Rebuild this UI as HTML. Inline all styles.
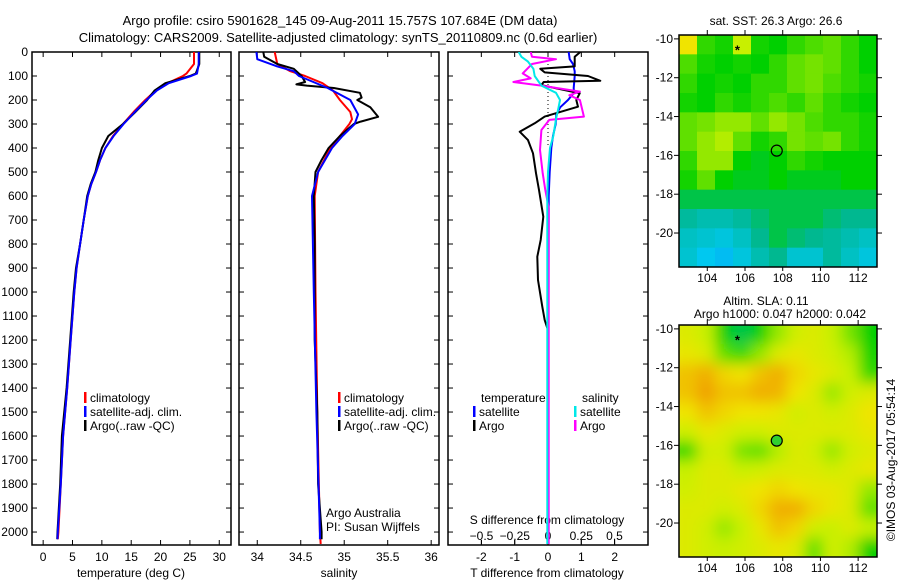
<!DOCTYPE html>
<html><head><meta charset="utf-8"><style>
html,body{margin:0;padding:0;background:#fff;}
svg{display:block;font-family:"Liberation Sans",sans-serif;font-size:12px;}
</style></head><body>
<svg id="fig" width="900" height="580" viewBox="0 0 900 580">
<defs>
<clipPath id="c1"><rect x="32" y="52" width="199" height="493"/></clipPath>
<clipPath id="c2"><rect x="239" y="52" width="200" height="493"/></clipPath>
<clipPath id="c3"><rect x="448" y="52" width="200" height="493"/></clipPath>
<clipPath id="cm1"><rect x="679" y="35" width="198" height="232"/></clipPath>
<clipPath id="cm2"><rect x="679" y="325" width="198" height="232"/></clipPath>
<filter id="blur" x="-5%" y="-5%" width="110%" height="110%"><feGaussianBlur stdDeviation="7"/></filter>
</defs>
<text x="340" y="25" text-anchor="middle" font-size="13">Argo profile: csiro 5901628_145 09-Aug-2011 15.757S 107.684E (DM data)</text>
<text x="338" y="42" text-anchor="middle" font-size="13">Climatology: CARS2009. Satellite-adjusted climatology: synTS_20110809.nc (0.6d earlier)</text>
<g id="g"></g>
</svg>
<script>
// ---- profile data ----
const tempDepth=[0,50,90,100,130,160,200,250,300,350,400,450,500,550,600,700,800,900,1000,1200,1400,1600,1800,2000,2030];
const argoT=[26.6,26.6,26.0,25.0,20.8,19.0,17.7,15.7,13.6,11.1,10.0,9.4,8.9,8.1,7.5,6.9,6.3,5.6,5.2,4.6,4.0,3.2,2.9,2.45,2.4];
const climT=[25.7,25.7,24.4,23.8,21.2,19.2,17.4,15.4,13.6,11.9,10.6,9.7,9.0,8.2,7.6,6.9,6.3,5.7,5.3,4.7,4.1,3.4,3.0,2.6,2.5];
const satT=[26.5,26.5,26.2,25.2,21.4,19.4,17.6,15.6,13.7,12.0,10.6,9.7,9.0,8.2,7.6,6.9,6.3,5.7,5.3,4.7,4.1,3.4,3.0,2.5,2.45];
const argoSD=[0,20,50,70,100,125,135,140,150,170,190,200,230,270,290,300,350,400,450,500,600,800,1200,1500,1800,2000,2030];
const argoS=[34.07,34.08,34.23,34.42,34.51,34.55,34.45,34.57,34.88,35.18,35.2,35.15,35.3,35.39,35.19,35.11,34.95,34.82,34.74,34.67,34.65,34.66,34.66,34.69,34.7,34.74,34.74];
const climSD=[0,50,80,100,130,160,200,250,280,300,350,400,500,600,1000,1500,2000,2050];
const climS=[34.2,34.23,34.38,34.55,34.75,34.87,34.95,35.07,35.09,35.06,34.95,34.84,34.7,34.66,34.67,34.69,34.72,34.73];
const satSD=[0,30,60,80,100,150,200,260,300,350,400,500,600,1000,1500,2000,2030];
const satS=[33.99,34.0,34.23,34.42,34.48,34.81,35.07,35.16,35.12,34.98,34.86,34.7,34.63,34.65,34.68,34.72,34.72];
const satTdD=[0,30,50,80,100,150,170,200,230,260,300,350,400,500,600,2050];
const satTd=[0.62,0.65,0.75,0.8,0.8,0.77,0.78,0.6,0.37,0.25,0.23,0.15,0.1,0.05,0.02,0.0];
const argoTdD=[0,20,60,70,85,100,120,125,138,172,200,228,269,297,332,367,422,505,575,686,783,853,950,1061,1117,1150];
const argoTd=[0.97,0.8,0.8,-0.23,-0.1,1.2,1.57,-0.13,-0.2,0.95,0.85,0.9,-0.1,-0.4,-0.85,-0.6,-0.45,-0.36,-0.27,-0.14,-0.22,-0.32,-0.3,-0.17,-0.1,-0.02];
const satSdD=[0,20,40,70,100,140,170,200,230,280,350,400,500,600,2050];
const satSd=[-0.22,-0.2,-0.15,-0.11,-0.1,-0.05,0.06,0.09,0.08,0.06,0.04,0.015,0,-0.005,-0.005];
const argoSdD=[0,20,30,50,89,110,125,140,165,180,200,269,283,325,408,505,575,650,2050];
const argoSd=[-0.13,-0.12,0.06,-0.12,-0.19,-0.13,-0.26,-0.05,0.24,0.16,0.24,0.27,0.01,-0.05,-0.06,-0.04,-0.02,0.005,0.005];
const depthTicks=[0,100,200,300,400,500,600,700,800,900,1000,1100,1200,1300,1400,1500,1600,1700,1800,1900,2000];
const tempTicks=[0,5,10,15,20,25,30];
const salTicks=[34,34.5,35,35.5,36];
const salTickLabels=["34","34.5","35","35.5","36"];
const tdTicks=[-2,-1,0,1,2];
const sdTicks=[-0.5,-0.25,0,0.25,0.5];
const sdTickLabels=["\u22120.5","\u22120.25","0","0.25","0.5"];
// ---- map data (coarse grids, 0=blue .. 1=red) ----
const mapLons=[102.5,113.0];
const mapLats=[-9.8,-21.75];
const lonTicks=[104,106,108,110,112];
const latTicks=[-10,-12,-14,-16,-18,-20];
const sstGrid=[
[0.8,0.55,0.52,0.7,0.52,0.5,0.55,0.58,0.6,0.55,0.5],
[0.58,0.52,0.5,0.52,0.5,0.55,0.6,0.62,0.6,0.55,0.5],
[0.55,0.5,0.52,0.5,0.55,0.55,0.6,0.62,0.58,0.55,0.52],
[0.52,0.5,0.55,0.52,0.55,0.58,0.55,0.6,0.55,0.52,0.5],
[0.6,0.62,0.65,0.65,0.6,0.65,0.62,0.58,0.55,0.55,0.52],
[0.6,0.65,0.68,0.6,0.52,0.55,0.62,0.6,0.62,0.55,0.52],
[0.55,0.65,0.65,0.5,0.48,0.5,0.55,0.52,0.5,0.5,0.5],
[0.52,0.6,0.5,0.48,0.48,0.5,0.48,0.48,0.48,0.5,0.5],
[0.45,0.45,0.45,0.45,0.45,0.45,0.45,0.45,0.45,0.45,0.45],
[0.38,0.35,0.35,0.38,0.42,0.45,0.45,0.45,0.42,0.4,0.4],
[0.32,0.3,0.28,0.32,0.4,0.45,0.42,0.4,0.38,0.35,0.32],
[0.3,0.25,0.22,0.28,0.35,0.4,0.3,0.3,0.38,0.32,0.28]];
const slaGrid=[
[0.75,0.7,0.5,0.45,0.5,0.65,0.72,0.75,0.7,0.62,0.5],
[0.78,0.75,0.6,0.55,0.65,0.75,0.78,0.75,0.72,0.68,0.52],
[0.85,0.88,0.82,0.8,0.85,0.88,0.82,0.78,0.75,0.7,0.55],
[0.85,0.9,0.85,0.85,0.88,0.87,0.8,0.75,0.65,0.72,0.75],
[0.8,0.85,0.82,0.8,0.8,0.78,0.72,0.75,0.72,0.75,0.8],
[0.72,0.78,0.75,0.72,0.72,0.75,0.75,0.75,0.75,0.75,0.78],
[0.55,0.72,0.72,0.62,0.6,0.68,0.75,0.72,0.65,0.72,0.75],
[0.7,0.75,0.75,0.7,0.72,0.75,0.75,0.75,0.72,0.75,0.78],
[0.72,0.75,0.75,0.78,0.8,0.82,0.8,0.78,0.78,0.75,0.65],
[0.75,0.75,0.72,0.75,0.82,0.88,0.88,0.82,0.78,0.75,0.6],
[0.75,0.72,0.65,0.7,0.78,0.85,0.82,0.72,0.7,0.75,0.7],
[0.75,0.72,0.7,0.72,0.75,0.78,0.75,0.6,0.72,0.68,0.5]];
const floatPos=[107.684,-15.757];
const prevPos=[105.6,-10.5];

const NS="http://www.w3.org/2000/svg";
const G=document.getElementById('g');
function mk(tag,attrs,parent){const e=document.createElementNS(NS,tag);for(const k in attrs)e.setAttribute(k,attrs[k]);(parent||G).appendChild(e);return e;}
function txt(x,y,s,anchor,parent){const t=mk('text',{x:x,y:y,'text-anchor':anchor||'start'},parent);t.textContent=s;return t;}

const PT=52,PB=545;
const yD=d=>PT+d*(PB-PT)/2054;
const panels=[
 {x0:32,x1:231,lo:-1.9,hi:32,clip:'c1',name:'temperature-panel'},
 {x0:239,x1:439,lo:33.79,hi:36.09,clip:'c2',name:'salinity-panel'},
 {x0:448,x1:648,lo:-3,hi:3,clip:'c3',name:'difference-panel'}];
const sx=(p,v)=>p.x0+(v-p.lo)*(p.x1-p.x0)/(p.hi-p.lo);
const sdx=v=>548+v*133;

function line(p,xs,ds,color,name,xf){
 const pts=xs.map((v,i)=>(xf?xf(v):sx(p,v)).toFixed(1)+','+yD(ds[i]).toFixed(1)).join(' ');
 const l=mk('polyline',{points:pts,fill:'none',stroke:color,'stroke-width':2,'stroke-linejoin':'round','clip-path':'url(#'+p.clip+')'});
 
 
}

panels.forEach((p,pi)=>{
 const g=mk('g',{});
 
 
 mk('rect',{x:p.x0,y:PT,width:p.x1-p.x0,height:PB-PT,fill:'none',stroke:'#000','stroke-width':1.5},g);
 depthTicks.forEach(d=>{
  const y=yD(d);
  mk('line',{x1:p.x0,x2:p.x0+5,y1:y,y2:y,stroke:'#000'},g);
  mk('line',{x1:p.x1-5,x2:p.x1,y1:y,y2:y,stroke:'#000'},g);
  if(pi===0){const t=txt(28,y+4,String(d),'end',g);
   
   }
 });
});
const P1=panels[0],P2=panels[1],P3=panels[2];
tempTicks.forEach(v=>{const x=sx(P1,v);
 mk('line',{x1:x,x2:x,y1:PB,y2:PB-5,stroke:'#000'});mk('line',{x1:x,x2:x,y1:PT,y2:PT+5,stroke:'#000'});
 const t=txt(x,561,String(v),'middle');});
salTicks.forEach((v,i)=>{const x=sx(P2,v);
 mk('line',{x1:x,x2:x,y1:PB,y2:PB-5,stroke:'#000'});mk('line',{x1:x,x2:x,y1:PT,y2:PT+5,stroke:'#000'});
 const t=txt(x,561,salTickLabels[i],'middle');});
tdTicks.forEach(v=>{const x=sx(P3,v);
 mk('line',{x1:x,x2:x,y1:PB,y2:PB-5,stroke:'#000'});mk('line',{x1:x,x2:x,y1:PT,y2:PT+5,stroke:'#000'});
 const t=txt(x,561,String(v),'middle');});
sdTicks.forEach((v,i)=>{const x=sdx(v);
 mk('line',{x1:x,x2:x,y1:540,y2:544,stroke:'#000'});
 const t=txt(x,540,sdTickLabels[i],'middle');});
[[131,577,'temperature (deg C)','temperature-axis-title'],[339,577,'salinity','salinity-axis-title'],[547,577,'T difference from climatology','t-diff-axis-title'],[547,524,'S difference from climatology','s-diff-axis-title']].forEach(a=>{
 const t=txt(a[0],a[1],a[2],'middle');});
const zl=mk('line',{x1:sx(P3,0),x2:sx(P3,0),y1:PT,y2:yD(400),stroke:'#000','stroke-dasharray':'1,3'});

line(P1,climT,tempDepth,'#ff0000','temp-climatology-line');
line(P1,argoT,tempDepth,'#000000','temp-argo-line');
line(P1,satT,tempDepth,'#0000ff','temp-satellite-line');
line(P2,climS,climSD,'#ff0000','sal-climatology-line');
line(P2,argoS,argoSD,'#000000','sal-argo-line');
line(P2,satS,satSD,'#0000ff','sal-satellite-line');
line(P3,satTd,satTdD,'#0000ff','tdiff-satellite-line');
line(P3,argoTd,argoTdD,'#000000','tdiff-argo-line');
line(P3,argoSd,argoSdD,'#ff00ff','sdiff-argo-line',sdx);
line(P3,satSd,satSdD,'#00e8e8','sdiff-satellite-line',sdx);
function leg(x,y,color,label,name){const g=mk('g',{});
 mk('rect',{x:x,y:y-10,width:2.5,height:11,fill:color},g);txt(x+6,y,label,'start',g);}
leg(84,402,'#ff0000','climatology','legend-climatology');
leg(84,416,'#0000ff','satellite-adj. clim.','legend-satellite');
leg(84,430,'#000000','Argo(..raw -QC)','legend-argo');
leg(338,402,'#ff0000','climatology','legend-sal-climatology');
leg(338,416,'#0000ff','satellite-adj. clim.','legend-sal-satellite');
leg(338,430,'#000000','Argo(..raw -QC)','legend-sal-argo');
let t=txt(481,402,'temperature');
t=txt(582,402,'salinity');
leg(473,416,'#0000ff','satellite','legend-t-satellite');
leg(473,430,'#000000','Argo','legend-t-argo');
leg(574,416,'#00e8e8','satellite','legend-s-satellite');
leg(574,430,'#ff00ff','Argo','legend-s-argo');
t=txt(326,517,'Argo Australia');
t=txt(326,531,'PI: Susan Wijffels');

const stops=[[0,[16,96,255]],[0.25,[0,200,240]],[0.4,[0,184,144]],[0.5,[0,208,0]],[0.6,[96,224,0]],[0.7,[200,240,0]],[0.8,[240,228,0]],[0.9,[240,160,0]],[1,[240,80,0]]];
function cmap(v){for(let i=1;i<stops.length;i++){if(v<=stops[i][0]){const a=stops[i-1],b=stops[i],f=(v-a[0])/(b[0]-a[0]);
 return 'rgb('+a[1].map((c,k)=>Math.round(c+(b[1][k]-c)*f)).join(',')+')';}}return 'rgb(240,80,0)';}

function drawMap(top,grid,clip,blur,name){
 const x0=679,x1=877,y0=top,y1=top+232;
 const mx=lon=>x0+(lon-mapLons[0])*(x1-x0)/(mapLons[1]-mapLons[0]);
 const my=lat=>y0+(lat-mapLats[0])*(y1-y0)/(mapLats[1]-mapLats[0]);
 const g=mk('g',{'clip-path':'url(#'+clip+')'});
 
 const inner=mk('g',blur?{filter:'url(#blur)'}:{},g);
 const rows=grid.length,cols=grid[0].length;
 const cw=(x1-x0)/cols,ch=(y1-y0)/rows;
 const pad=blur?12:0;
 for(let r=0;r<rows;r++)for(let c=0;c<cols;c++){
  const rx=x0+c*cw-(c===0?pad:0),ry=y0+r*ch-(r===0?pad:0);
  const w=cw+0.6+(c===0||c===cols-1?pad:0),h=ch+0.6+(r===0||r===rows-1?pad:0);
  const cell=mk('rect',{x:rx,y:ry,width:w,height:h,fill:cmap(grid[r][c])},inner);
  
  
 }
 mk('rect',{x:x0,y:y0,width:x1-x0,height:y1-y0,fill:'none',stroke:'#000','stroke-width':1.5});
 lonTicks.forEach(l=>{const x=mx(l);
  mk('line',{x1:x,x2:x,y1:y0-5,y2:y0,stroke:'#000'});mk('line',{x1:x,x2:x,y1:y1,y2:y1+4,stroke:'#000'});
  const tt=txt(x,y1+15,String(l),'middle');});
 latTicks.forEach(l=>{const y=my(l);
  mk('line',{x1:x0-5,x2:x0,y1:y,y2:y,stroke:'#000'});mk('line',{x1:x1,x2:x1+5,y1:y,y2:y,stroke:'#000'});
  const tt=txt(x0-6,y+4,String(l),'end');});
 const c=mk('circle',{cx:mx(floatPos[0]),cy:my(floatPos[1]),r:5.5,fill:blur?'#30d030':'none',stroke:'#000','stroke-width':1.2});
 
 const s=mk('text',{x:mx(prevPos[0]),y:my(prevPos[1])+6,'text-anchor':'middle','font-size':'13','font-weight':'bold'});s.textContent='*';
 
}
drawMap(35,sstGrid,'cm1',false,'sst-map');
drawMap(325,slaGrid,'cm2',true,'sla-map');
t=txt(776,25,'sat. SST: 26.3 Argo: 26.6','middle');
t=txt(766,305,'Altim. SLA: 0.11','middle');
t=txt(780,318,'Argo h1000: 0.047 h2000: 0.042','middle');
t=txt(0,0,'©IMOS 03-Aug-2017 05:54:14','middle');t.setAttribute('transform','translate(895,460) rotate(-90)');

</script>
</body></html>
